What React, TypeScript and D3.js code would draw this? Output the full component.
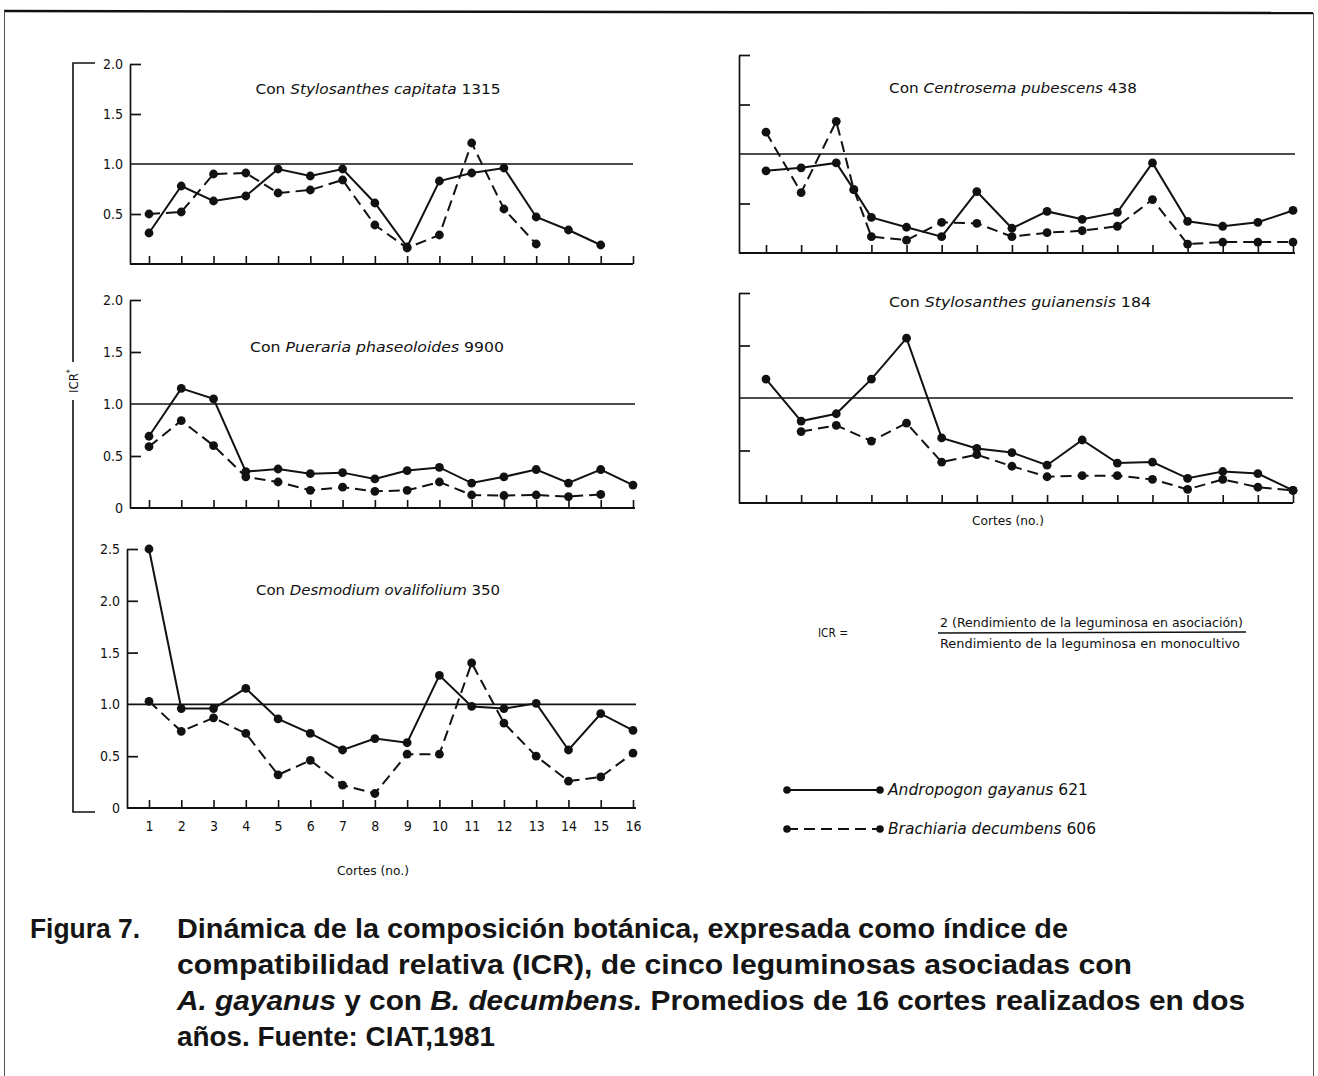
import { useEffect, useRef } from 'react';
import * as d3 from 'd3';

// cortes (no.)
const cuts = [1, 2, 3, 4, 5, 6, 7, 8, 9, 10, 11, 12, 13, 14, 15, 16];
// the Centrosema panel has one extra point drawn between cortes 3 and 4
const cutsCentrosema = [1, 2, 3, 3.5, 4, 5, 6, 7, 8, 9, 10, 11, 12, 13, 14, 15, 16];

// ICR values, Andropogon gayanus 621 (solid) / Brachiaria decumbens 606 (dashed)
const capitataAndropogon = [0.31, 0.78, 0.63, 0.68, 0.95, 0.88, 0.95, 0.61, 0.17, 0.83, 0.91, 0.96, 0.47, 0.34, 0.19, null];
const capitataBrachiaria = [0.5, 0.52, 0.9, 0.91, 0.71, 0.74, 0.84, 0.39, 0.16, 0.29, 1.21, 0.55, 0.2, null, null, null];

const centrosemaAndropogon = [0.83, 0.86, 0.91, 0.64, 0.36, 0.26, 0.165, 0.62, 0.25, 0.42, 0.34, 0.41, 0.91, 0.32, 0.27, 0.31, 0.43];
const centrosemaBrachiaria = [1.22, 0.61, 1.33, 0.64, 0.165, 0.13, 0.31, 0.3, 0.165, 0.205, 0.225, 0.27, 0.54, 0.09, 0.11, 0.11, 0.11];

const puerariaAndropogon = [0.69, 1.15, 1.05, 0.35, 0.375, 0.33, 0.34, 0.28, 0.36, 0.39, 0.24, 0.3, 0.37, 0.24, 0.37, 0.22];
const puerariaBrachiaria = [0.59, 0.84, 0.6, 0.3, 0.25, 0.17, 0.2, 0.16, 0.17, 0.25, 0.125, 0.12, 0.125, 0.11, 0.13, null];

const guianensisAndropogon = [1.18, 0.78, 0.85, 1.18, 1.57, 0.62, 0.52, 0.48, 0.36, 0.6, 0.38, 0.39, 0.235, 0.3, 0.28, 0.12];
const guianensisBrachiaria = [null, 0.68, 0.74, 0.59, 0.76, 0.39, 0.46, 0.35, 0.25, 0.26, 0.26, 0.225, 0.13, 0.225, 0.15, 0.12];

const desmodiumAndropogon = [2.5, 0.96, 0.96, 1.155, 0.86, 0.72, 0.56, 0.67, 0.63, 1.28, 0.98, 0.96, 1.01, 0.56, 0.91, 0.75];
const desmodiumBrachiaria = [1.03, 0.74, 0.87, 0.72, 0.32, 0.46, 0.22, 0.14, 0.52, 0.52, 1.4, 0.82, 0.5, 0.26, 0.3, 0.53];

// y ticks
const yTicks2 = [0.5, 1, 1.5, 2];
const yTicks2Zero = [0, 0.5, 1, 1.5, 2];
const yTicks25 = [0, 0.5, 1, 1.5, 2, 2.5];

// legend
const seriesNames = ['Andropogon gayanus', 'Brachiaria decumbens'];
const seriesCodes = ['621', '606'];

const NARROW = "'Liberation Sans Narrow', 'DejaVu Sans Condensed', 'Arial Narrow', 'Liberation Sans', Arial, sans-serif";
const CAPTION = "'Liberation Sans', Arial, Helvetica, sans-serif";
const INK = '#111';

const panels = [
  { species: 'Stylosanthes capitata', code: '1315', cuts, a: capitataAndropogon, b: capitataBrachiaria,
    yMax: 2, ticks: yTicks2, labels: true, xLabels: false,
    xr: [149, 633], axisX: [130, 633], yr: [264, 64], title: [378, 94], titleW: 245 },
  { species: 'Centrosema pubescens', code: '438', cuts: cutsCentrosema, a: centrosemaAndropogon, b: centrosemaBrachiaria,
    yMax: 2, ticks: yTicks2, labels: false, xLabels: false,
    xr: [766, 1293], axisX: [739, 1295], yr: [253, 55], title: [1013, 93], titleW: 248 },
  { species: 'Pueraria phaseoloides', code: '9900', cuts, a: puerariaAndropogon, b: puerariaBrachiaria,
    yMax: 2, ticks: yTicks2Zero, labels: true, xLabels: false,
    xr: [149, 633], axisX: [130, 635], yr: [508, 300], title: [377, 352], titleW: 254 },
  { species: 'Stylosanthes guianensis', code: '184', cuts, a: guianensisAndropogon, b: guianensisBrachiaria,
    yMax: 2, ticks: yTicks2, labels: false, xLabels: false,
    xr: [766, 1293], axisX: [739, 1293], yr: [503, 293], title: [1020, 307], titleW: 262 },
  { species: 'Desmodium ovalifolium', code: '350', cuts, a: desmodiumAndropogon, b: desmodiumBrachiaria,
    yMax: 2.5, ticks: yTicks25, labels: true, xLabels: true,
    xr: [149, 633], axisX: [127, 636], yr: [808, 549], title: [378, 595], titleW: 244 },
];

// caption lines: text pieces [text, italic]
const captionLines = [
  [['Dinámica de la composición botánica, expresada como índice de', false]],
  [['compatibilidad relativa (ICR), de cinco leguminosas asociadas con', false]],
  [['A. gayanus', true], [' y con ', false], ['B. decumbens.', true], [' Promedios de 16 cortes realizados en dos', false]],
  [['años. Fuente: CIAT,1981', false]],
];
const captionWidths = [891, 955, 1068, 318];

const App = () => {
  const svgRef = useRef(null);

  useEffect(() => {
    const svg = d3.select(svgRef.current);
    svg.selectAll('*').remove();

    // page frame of the scan
    svg.append('line').attr('x1', 4).attr('y1', 11).attr('x2', 1313).attr('y2', 13)
      .attr('stroke', INK).attr('stroke-width', 2.5);
    svg.append('line').attr('x1', 4.5).attr('y1', 11).attr('x2', 4.5).attr('y2', 1076)
      .attr('stroke', '#555').attr('stroke-width', 1);
    svg.append('line').attr('x1', 1313.5).attr('y1', 13).attr('x2', 1313.5).attr('y2', 1076)
      .attr('stroke', '#555').attr('stroke-width', 1);

    // big bracket with ICR*
    svg.append('path').attr('d', 'M95,63 H73 V362 M73,400 V812 H95')
      .attr('fill', 'none').attr('stroke', INK).attr('stroke-width', 1.6);
    const icr = svg.append('text')
      .attr('transform', 'translate(78,381) rotate(-90)')
      .attr('text-anchor', 'middle')
      .attr('font-family', NARROW).attr('font-size', 13).attr('fill', INK);
    icr.append('tspan').text('ICR');
    icr.append('tspan').attr('dy', -5).attr('font-size', 9).text('*');

    const lineGen = (x, y) => d3.line()
      .defined(d => d.v != null)
      .x(d => x(d.c)).y(d => y(d.v));

    panels.forEach(p => {
      const g = svg.append('g');
      const x = d3.scaleLinear().domain([1, 16]).range(p.xr);
      const y = d3.scaleLinear().domain([0, p.yMax]).range(p.yr);

      // y axis, ticks pointing inward
      const ya = g.append('g')
        .attr('transform', `translate(${p.axisX[0]},0)`)
        .call(d3.axisLeft(y).tickValues(p.ticks).tickSize(-11).tickSizeOuter(0).tickPadding(7)
          .tickFormat(p.labels ? (d => (d === 0 ? '0' : d3.format('.1f')(d))) : () => ''));
      ya.attr('font-family', NARROW).attr('font-size', 14).attr('color', INK);
      ya.select('.domain').attr('stroke-width', 1.7);
      ya.selectAll('.tick line').attr('stroke-width', 1.7);
      ya.selectAll('.tick').filter(d => d === 1).select('line').remove();
      ya.selectAll('.tick').filter(d => d === 0).select('line').remove();

      // x axis base line
      g.append('line')
        .attr('x1', p.axisX[0]).attr('x2', p.axisX[1])
        .attr('y1', y(0)).attr('y2', y(0))
        .attr('stroke', INK).attr('stroke-width', 1.9);

      const xa = g.append('g')
        .attr('transform', `translate(0,${y(0)})`)
        .call(d3.axisBottom(x).tickValues(cuts).tickSize(-8).tickSizeOuter(0).tickPadding(13)
          .tickFormat(p.xLabels ? d3.format('d') : () => ''));
      xa.select('.domain').remove();
      xa.attr('font-family', NARROW).attr('font-size', 14).attr('color', INK);
      xa.selectAll('.tick line').attr('stroke-width', 1.6);

      // reference line at ICR = 1
      g.append('line')
        .attr('x1', p.axisX[0]).attr('x2', p.axisX[1])
        .attr('y1', y(1)).attr('y2', y(1))
        .attr('stroke', INK).attr('stroke-width', 1.6);

      // title
      const t = g.append('text')
        .attr('x', p.title[0]).attr('y', p.title[1])
        .attr('text-anchor', 'middle')
        .attr('font-family', NARROW).attr('font-size', 14).attr('fill', INK)
        .attr('textLength', p.titleW).attr('lengthAdjust', 'spacingAndGlyphs');
      t.append('tspan').text('Con ');
      t.append('tspan').attr('font-style', 'italic').text(p.species);
      t.append('tspan').text(' ' + p.code);

      // series
      const sA = p.cuts.map((c, i) => ({ c, v: p.a[i] }));
      const sB = p.cuts.map((c, i) => ({ c, v: p.b[i] }));
      const line = lineGen(x, y);

      g.append('path').datum(sB).attr('d', line)
        .attr('fill', 'none').attr('stroke', INK).attr('stroke-width', 2)
        .attr('stroke-dasharray', '11,6');
      g.append('path').datum(sA).attr('d', line)
        .attr('fill', 'none').attr('stroke', INK).attr('stroke-width', 2);

      g.append('g').selectAll('circle')
        .data([...sA, ...sB].filter(d => d.v != null))
        .join('circle')
        .attr('cx', d => x(d.c)).attr('cy', d => y(d.v))
        .attr('r', 4.4).attr('fill', INK);
    });

    // axis titles
    [[373, 875], [1008, 525]].forEach(([cx, cy]) => {
      svg.append('text').attr('x', cx).attr('y', cy).attr('text-anchor', 'middle')
        .attr('font-family', NARROW).attr('font-size', 13).attr('fill', INK)
        .attr('textLength', 72).attr('lengthAdjust', 'spacingAndGlyphs')
        .text('Cortes (no.)');
    });

    // formula
    svg.append('text').attr('x', 818).attr('y', 637)
      .attr('font-family', NARROW).attr('font-size', 13).attr('fill', INK)
      .attr('textLength', 30).attr('lengthAdjust', 'spacingAndGlyphs').text('ICR =');
    svg.append('text').attr('x', 940).attr('y', 627)
      .attr('font-family', NARROW).attr('font-size', 13).attr('fill', INK)
      .attr('textLength', 303).attr('lengthAdjust', 'spacingAndGlyphs')
      .text('2 (Rendimiento de la leguminosa en asociación)');
    svg.append('line').attr('x1', 938).attr('x2', 1246).attr('y1', 633).attr('y2', 632)
      .attr('stroke', INK).attr('stroke-width', 1.4);
    svg.append('text').attr('x', 940).attr('y', 648)
      .attr('font-family', NARROW).attr('font-size', 13).attr('fill', INK)
      .attr('textLength', 300).attr('lengthAdjust', 'spacingAndGlyphs')
      .text('Rendimiento de la leguminosa en monocultivo');

    // legend
    const legY = d3.scalePoint().domain(seriesNames).range([790, 829]);
    seriesNames.forEach((name, i) => {
      const ly = legY(name);
      svg.append('line').attr('x1', 787).attr('x2', 880).attr('y1', ly).attr('y2', ly)
        .attr('stroke', INK).attr('stroke-width', 2)
        .attr('stroke-dasharray', i === 1 ? '11,6' : null);
      [787, 880].forEach(cx => svg.append('circle').attr('cx', cx).attr('cy', ly).attr('r', 3.8).attr('fill', INK));
      const lt = svg.append('text').attr('x', 888).attr('y', ly + 5)
        .attr('font-family', NARROW).attr('font-size', 15).attr('fill', INK)
        .attr('textLength', i === 0 ? 200 : 208).attr('lengthAdjust', 'spacingAndGlyphs');
      lt.append('tspan').attr('font-style', 'italic').text(name);
      lt.append('tspan').text(' ' + seriesCodes[i]);
    });

    // caption
    const cap = svg.append('g').attr('font-family', CAPTION).attr('font-weight', 'bold')
      .attr('font-size', 28).attr('fill', '#151515');
    cap.append('text').attr('x', 30).attr('y', 938)
      .attr('textLength', 110).attr('lengthAdjust', 'spacingAndGlyphs').text('Figura 7.');
    captionLines.forEach((pieces, i) => {
      const tx = cap.append('text').attr('x', 177).attr('y', 938 + i * 36)
        .attr('textLength', captionWidths[i]).attr('lengthAdjust', 'spacingAndGlyphs');
      pieces.forEach(([s, it]) => {
        tx.append('tspan').attr('font-style', it ? 'italic' : null).text(s);
      });
    });
  }, []);

  return (
    <div style={{ position: 'absolute', left: 0, top: 0, background: '#fff' }}>
      <svg ref={svgRef} width={1318} height={1076} style={{ display: 'block', background: '#fff' }} />
    </div>
  );
};

export default App;
